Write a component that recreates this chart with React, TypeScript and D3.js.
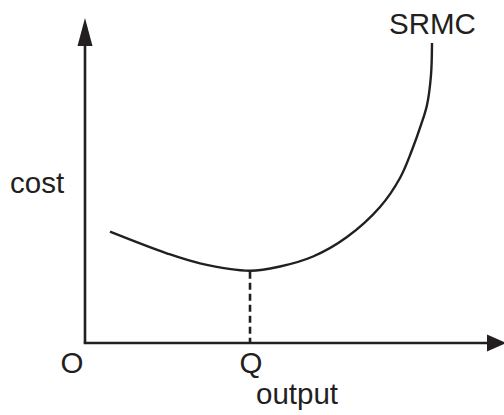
import * as d3 from "d3";
import { useRef, useEffect } from "react";

// SRMC curve (output, cost) in 0..100 units
const outputVals = [5.95, 19.45, 27.38, 39.29, 46.43, 54.29, 62.38, 70.24, 75.0, 77.86, 80.0, 81.43, 82.38, 82.62];
const costVals = [34.25, 27.6, 24.52, 22.25, 23.54, 26.62, 32.62, 41.85, 50.77, 59.38, 67.08, 73.23, 82.46, 92.31];
const qOutput = 39.29;
const qCost = 22.25;

export default function App() {
  const ref = useRef<SVGSVGElement>(null);
  const width = 504;
  const height = 415;

  useEffect(() => {
    const svg = d3.select(ref.current);
    svg.selectAll("*").remove();

    const ink = "#231f20";
    const font = "'Liberation Sans', Arial, Helvetica, sans-serif";
    const fs = 29.5;

    const x = d3.scaleLinear().domain([0, 100]).range([85, 505]);
    const y = d3.scaleLinear().domain([0, 100]).range([343, 18]);

    const g = svg.append("g");

    // axes
    g.append("line")
      .attr("x1", x(0)).attr("y1", y(0))
      .attr("x2", x(0)).attr("y2", y(100) + 20)
      .attr("stroke", ink).attr("stroke-width", 2.6);
    g.append("line")
      .attr("x1", x(0) - 1.3).attr("y1", y(0))
      .attr("x2", 490).attr("y2", y(0))
      .attr("stroke", ink).attr("stroke-width", 2.6);

    // arrowheads
    g.append("path")
      .attr("d", `M${x(0)},${y(100)} L${x(0) + 7.5},${y(100) + 28} L${x(0) - 7.5},${y(100) + 28} Z`)
      .attr("fill", ink);
    g.append("path")
      .attr("d", `M${x(0) + 402},${y(0) - 8.5} L${x(0) + 421},${y(0)} L${x(0) + 402},${y(0) + 8.5} Z`)
      .attr("fill", ink);

    // dashed drop line at Q
    g.append("line")
      .attr("x1", x(qOutput)).attr("y1", y(qCost) + 1)
      .attr("x2", x(qOutput)).attr("y2", y(0))
      .attr("stroke", ink).attr("stroke-width", 2.6)
      .attr("stroke-dasharray", "7,4");

    // SRMC curve
    const line = d3.line<number>()
      .x((d, i) => x(outputVals[i]))
      .y(d => y(d))
      .curve(d3.curveCatmullRom.alpha(0.5));
    g.append("path")
      .attr("d", line(costVals))
      .attr("fill", "none")
      .attr("stroke", ink)
      .attr("stroke-width", 2.4);

    const label = (t: string, px: number, py: number, anchor = "start") =>
      g.append("text")
        .attr("x", px).attr("y", py)
        .attr("text-anchor", anchor)
        .attr("font-family", font)
        .attr("font-size", fs)
        .attr("fill", ink)
        .text(t);

    label("SRMC", 389, 34);
    label("cost", 10, 193);
    label("O", 72, 373, "middle");
    label("Q", x(qOutput) + 1, 373, "middle");
    label("output", 256, 404);
  }, []);

  return (
    <svg
      ref={ref}
      width={width}
      height={height}
      style={{ position: "absolute", left: 0, top: 0, background: "#fff" }}
    />
  );
}
